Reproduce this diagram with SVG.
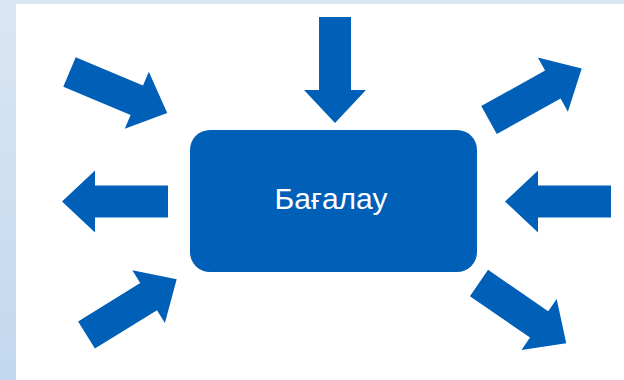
<svg xmlns="http://www.w3.org/2000/svg" width="624" height="380" viewBox="0 0 624 380">
  <defs>
    <linearGradient id="bg" x1="0" y1="0" x2="0" y2="1">
      <stop offset="0" stop-color="#dae6f4"/>
      <stop offset="1" stop-color="#c2d8ee"/>
    </linearGradient>
    <path id="arr" d="M0,-16 H73 V-31 L106,0 L73,31 V16 H0 Z"/>
  </defs>
  <style>
    .a { fill: #0060b8; }
    .box { fill: #0060b8; }
    .lbl { font-family: "Liberation Sans", Arial, sans-serif; font-size: 30px; fill: #ffffff; }
  </style>
  <rect x="0" y="0" width="624" height="380" fill="url(#bg)"/>
  <rect x="16" y="4" width="608" height="376" fill="#ffffff"/>
  <g id="connectors">
    <use href="#arr" class="a" transform="translate(335,17) rotate(90)"/>
    <use href="#arr" class="a" transform="translate(69.5,72) rotate(22.8)"/>
    <use href="#arr" class="a" transform="translate(168,201.5) rotate(180)"/>
    <use href="#arr" class="a" transform="translate(611,201.5) rotate(180)"/>
    <use href="#arr" class="a" transform="translate(489,120) rotate(-29)"/>
    <use href="#arr" class="a" transform="translate(86.5,335) rotate(-31.7)"/>
    <use href="#arr" class="a" transform="translate(479,283) rotate(34.6)"/>
  </g>
  <g id="node-bagalau">
    <rect class="box" x="190" y="130" width="287" height="142" rx="20" ry="20"/>
    <text class="lbl" x="331" y="209" text-anchor="middle">Бағалау</text>
  </g>
</svg>
